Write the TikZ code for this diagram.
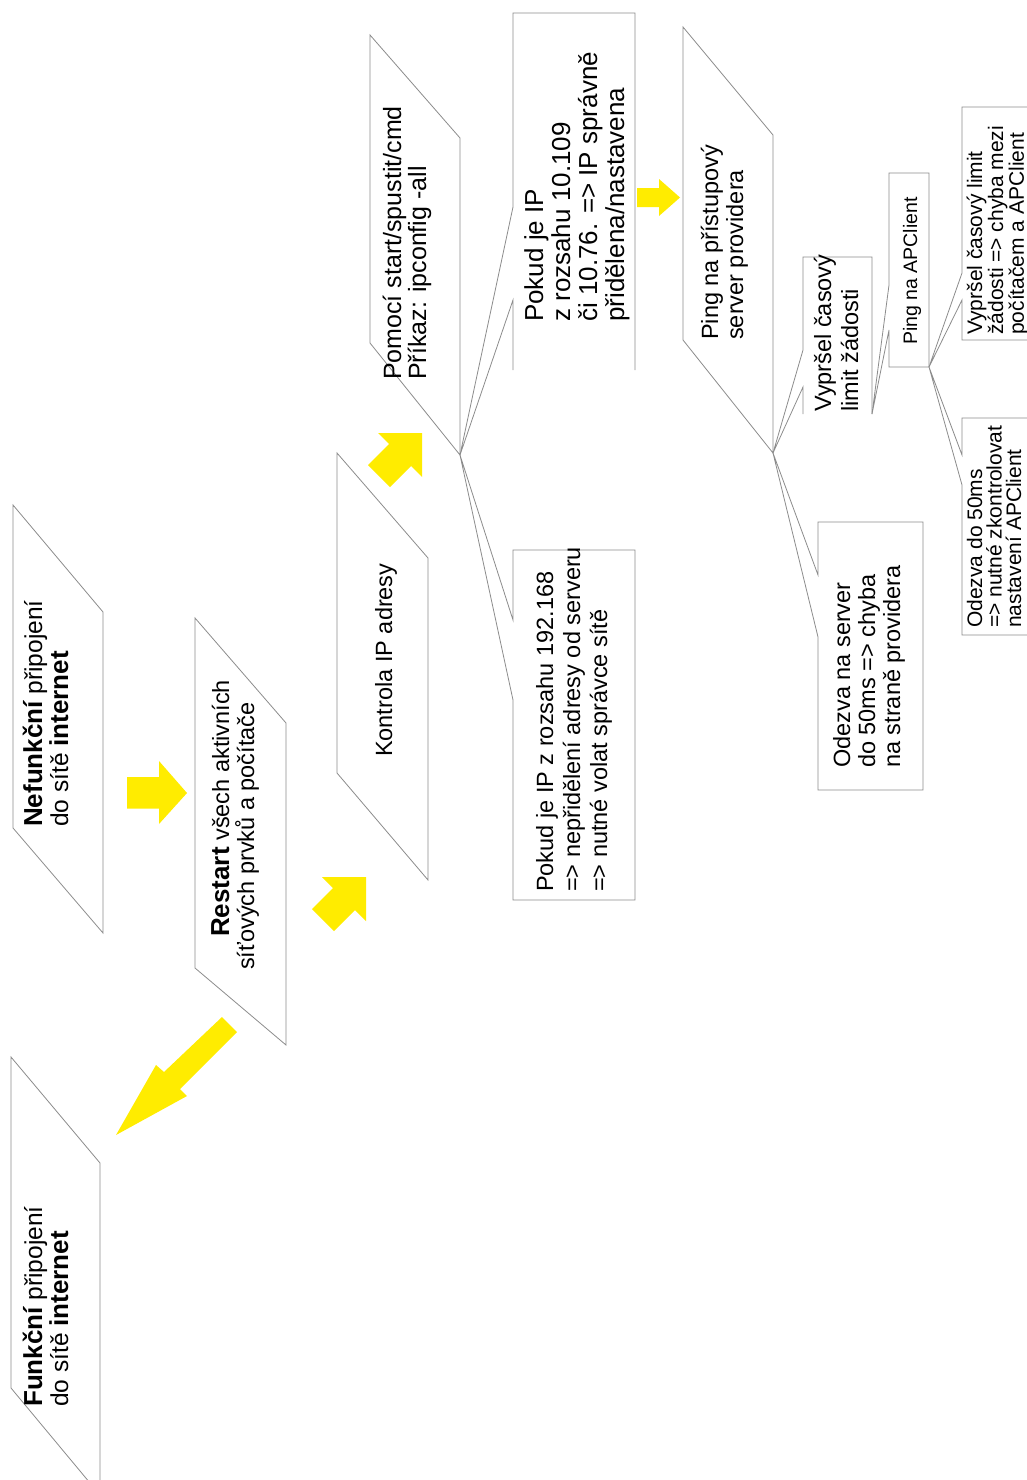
\documentclass[tikz,border=0pt]{standalone}
\usepackage{fontspec}
\setmainfont{Liberation Sans}
\definecolor{lineg}{RGB}{140,140,140}
\definecolor{arrowy}{RGB}{255,236,0}
\newcommand\tp[1]{\rule{0pt}{#1pt}}
\tikzset{
  frame/.style={draw=lineg, line width=0.8pt, fill=white, line join=miter},
  yarrow/.style={fill=arrowy, draw=none},
  txt/.style={rotate=90, inner sep=0pt, anchor=north west, align=left, text=black},
  txtone/.style={rotate=90, inner sep=0pt, anchor=base west, text=black},
}
\begin{document}
\begin{tikzpicture}[x=1pt,y=-1pt]
\useasboundingbox (0,0) rectangle (1027,1480);
\fill[white] (0,0) rectangle (1027,1480);
\clip (0,0) rectangle (1027,1480);

% tip coordinates of the callouts
\coordinate (tipA) at (460,455);
\coordinate (tipB) at (773,453);
\coordinate (tipC) at (872,414);
\coordinate (tipD) at (929,367);

% parallelograms
\draw[frame] (13,505) -- (103,612) -- (103,933) -- (13,828) -- cycle;
\draw[frame] (11,1057) -- (100,1163) -- (100,1495) -- (11,1388) -- cycle;
\draw[frame] (195,618) -- (286,723) -- (286,1045) -- (195,968) -- cycle;
\draw[frame] (337,453) -- (428,558) -- (428,880) -- (337,773) -- cycle;
\draw[frame] (370,35) -- (460,138) -- (tipA) -- (370,343) -- cycle;
\draw[frame] (683,27) -- (773,135) -- (tipB) -- (683,340) -- cycle;

% callouts
\fill[white] (513,13) rectangle (635,370);
\draw[frame] (635,370) -- (635,13) -- (513,13) -- (513,207) -- (tipA) -- (513,300) -- (513,370);
\draw[frame] (513,550) -- (635,550) -- (635,900) -- (513,900) -- (513,700) -- (tipA) -- (513,620) -- cycle;
\fill[white] (803,257) rectangle (872,414);
\draw[frame] (803,414) -- (803,387) -- (tipB) -- (803,350) -- (803,257) -- (872,257) -- (tipC);
\draw[frame] (818,522) -- (923,522) -- (923,790) -- (818,790) -- (818,637) -- (tipB) -- (818,575) -- cycle;
\draw[frame] (889,173) -- (929,173) -- (tipD) -- (889,367) -- (889,330) -- (tipC) -- (889,285) -- cycle;
\draw[frame] (962,107) -- (1045,107) -- (1045,340) -- (962,340) -- (962,300) -- (tipD) -- (962,273) -- cycle;
\draw[frame] (962,418) -- (1045,418) -- (1045,635) -- (962,635) -- (962,485) -- (tipD) -- (962,455) -- cycle;

% yellow arrows
\fill[yarrow] (127,777) -- (159,777) -- (159,761) -- (187,793) -- (159,824) -- (159,808.5) -- (127,808.5) -- cycle;
\fill[yarrow] (366,877) -- (366,921) -- (355,910) -- (334,931) -- (312,909) -- (333,888) -- (322,877) -- cycle;
\fill[yarrow] (422,433) -- (422,477) -- (411,466) -- (390,487) -- (368,465) -- (389,444) -- (378,433) -- cycle;
\fill[yarrow] (637,188) -- (659,188) -- (659,179) -- (680,197.5) -- (659,216) -- (659,207) -- (637,207) -- cycle;
\fill[yarrow] (222,1017) -- (237,1032) -- (180,1089) -- (187,1096) -- (116,1135) -- (156,1065) -- (164,1072) -- cycle;

% texts
\node[txt, font=\fontsize{24.5}{26}\selectfont] (nef) at (16,827)
  {\tp{26}{\fontsize{26}{26}\selectfont\bfseries Nefunkční} připojení\\do sítě {\fontsize{26}{26}\selectfont\bfseries internet}};
\node[txt, font=\fontsize{24.5}{26}\selectfont] (fun) at (16,1407)
  {\tp{26}{\fontsize{26}{26}\selectfont\bfseries Funkční} připojení\\do sítě {\fontsize{26}{26}\selectfont\bfseries internet}};
\node[txt, font=\fontsize{23.5}{25}\selectfont] (res) at (203,970)
  {\tp{26}\hspace*{33pt}{\fontsize{26}{25}\selectfont\bfseries Restart} všech aktivních\\síťových prvků a počítače};
\node[txtone, font=\fontsize{23.5}{26}\selectfont] (kon) at (392,757) {Kontrola IP adresy};
\node[txt, font=\fontsize{25}{25}\selectfont] (pom) at (375,380)
  {\tp{26}Pomocí start/spustit/cmd\\Příkaz: ipconfig -all};
\node[txt, font=\fontsize{26}{27}\selectfont] (ok) at (515,322)
  {\tp{28}Pokud je IP\\z rozsahu 10.109\\či 10.76. => IP správně\\přidělena/nastavena};
\node[txt, font=\fontsize{23.5}{27}\selectfont] (bad) at (527,892)
  {\tp{26}Pokud je IP z rozsahu 192.168\\=> nepřidělení adresy od serveru\\=> nutné volat správce sítě};
\node[txt, font=\fontsize{23.5}{25}\selectfont] (ping) at (692,340)
  {\tp{26}Ping na přístupový\\server providera};
\node[txt, font=\fontsize{23.5}{27}\selectfont] (timeout) at (805,412)
  {\tp{26}Vypršel časový\\limit žádosti};
\node[txt, font=\fontsize{23.5}{25}\selectfont] (resp) at (824,768)
  {\tp{26}Odezva na server\\do 50ms => chyba\\na straně providera};
\node[txtone, font=\fontsize{19.5}{21}\selectfont] (pingap) at (917,345) {Ping na APClient};
\node[txt, font=\fontsize{21}{19.5}\selectfont] (respap) at (962,628)
  {\tp{20}Odezva do 50ms\\=> nutné zkontrolovat\\nastavení APClient};
\node[txt, font=\fontsize{21}{19.5}\selectfont] (toap) at (962,335)
  {\tp{20}Vypršel časový limit\\žádosti => chyba mezi\\počítačem a APClient};
\end{tikzpicture}
\end{document}
